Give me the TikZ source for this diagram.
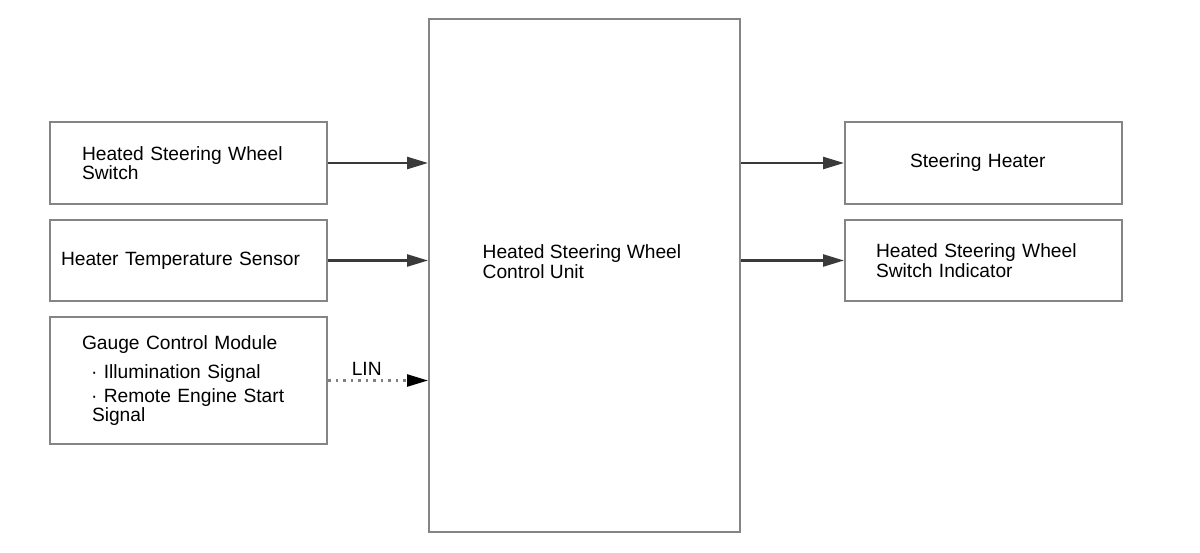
\documentclass[tikz,border=0pt]{standalone}
\usepackage{fontspec}
\setmainfont{Liberation Sans}
\usetikzlibrary{arrows.meta}
\definecolor{rim}{HTML}{858585}
\definecolor{wire}{HTML}{3A3A3A}
\tikzset{
	blk/.style 2 args={draw=rim, line width=2pt, inner xsep=#1pt, text width=#2pt,
		minimum height=82pt, align=left, font=\fontsize{19.2}{19.5}\selectfont},
	txt/.style={inner sep=0pt, align=left, font=\fontsize{19.2}{19.5}\selectfont},
	sig/.style={draw=wire, line width=2.5pt, -{Triangle[length=21pt,width=12pt]}},
	bus/.style={draw=gray, line width=2.5pt, dash pattern=on 2.5pt off 5pt,
		-{Triangle[length=21pt,width=12pt,color=black]}}
}
\newcommand {\feed}[2] {\draw[sig] (#1.east) -- (#1.east -| #2.west);}
\newcommand {\drive}[2] {\draw[sig] (#2.west -| #1.east) -- (#2.west);}

\begin{document}
\begin{tikzpicture}[x=1pt,y=-1pt]
	\useasboundingbox (0,0) rectangle (1200,552);
	% inputs
	\node[blk={32}{213}] (hsws) at (188.5,163) {Heated Steering Wheel\\Switch};
	\node[blk={11}{255}, minimum height=81pt] (hts) at (188.5,260.5) {Heater Temperature Sensor};
	\node[blk={32}{213}, minimum height=127pt] (gcm) at (188.5,380.5)
		{Gauge Control Module\\[9.8pt]\hspace*{9pt}· Illumination Signal\\[3.8pt]\hspace*{9pt}· Remote Engine Start\\\hspace*{10pt}Signal};
	% control unit
	\node[blk={0}{0}, minimum width=311pt, minimum height=513pt] (hswcu) at (584.5,275) {};
	\node[txt, anchor=west] (hswcutxt) at (482.5,261.5) {Heated Steering Wheel\\Control Unit};
	% outputs
	\node[blk={65}{147}] (sh) at (983.5,163) {Steering Heater};
	\node[blk={31}{215}, minimum height=81pt] (hswsi) at (983.5,260.5) {Heated Steering Wheel\\Switch Indicator};
	\feed{hsws}{hswcu}
	\feed{hts}{hswcu}
	\draw[bus] (gcm.east) -- node[pos=0.387, above=4pt, txt] (lin) {LIN} (gcm.east -| hswcu.west);
	\drive{hswcu}{sh}
	\drive{hswcu}{hswsi}
\end{tikzpicture}
\end{document}
